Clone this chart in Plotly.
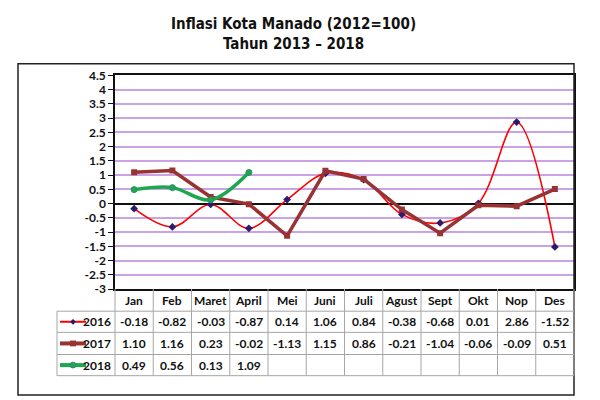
import plotly.graph_objects as go

months = ["Jan", "Feb", "Maret", "April", "Mei", "Juni", "Juli", "Agust", "Sept", "Okt", "Nop", "Des"]
v2016 = [-0.18, -0.82, -0.03, -0.87, 0.14, 1.06, 0.84, -0.38, -0.68, 0.01, 2.86, -1.52]
v2017 = [1.10, 1.16, 0.23, -0.02, -1.13, 1.15, 0.86, -0.21, -1.04, -0.06, -0.09, 0.51]
v2018 = [0.49, 0.56, 0.13, 1.09]
years = ["2016", "2017", "2018"]
ytick_vals = [-3, -2.5, -2, -1.5, -1, -0.5, 0, 0.5, 1, 1.5, 2, 2.5, 3, 3.5, 4, 4.5]

W, H = 600, 400
PL, PR, PT, PB = 115, 574, 70, 292
ROWS = [292, 315, 337, 360, 382]
LEG_L = 57

C16, C17, C18 = "#FF0000", "#993333", "#1EA84E"
MK16 = "#2E1A6B"
GRID = "#C9A3E6"
TFONT = "Lato"


def px(x):
    return x / W


def py(y):
    return 1 - y / H


fig = go.Figure()
fig.add_trace(go.Scatter(x=months, y=v2016, mode="lines+markers", name="2016",
                         line=dict(color=C16, width=1.6, shape="spline", smoothing=1.0),
                         marker=dict(symbol="diamond", size=6, color=MK16)))
fig.add_trace(go.Scatter(x=months, y=v2017, mode="lines+markers", name="2017",
                         line=dict(color=C17, width=3.5),
                         marker=dict(symbol="square", size=6, color=C17)))
fig.add_trace(go.Scatter(x=months[:len(v2018)], y=v2018, mode="lines+markers", name="2018",
                         line=dict(color=C18, width=3.5, shape="spline", smoothing=1.0),
                         marker=dict(symbol="circle", size=6, color=C18,
                                     line=dict(color="#2E8B6E", width=1))))

shapes = []
ann = []
GL = dict(color="#A6A6A6", width=1)

# outer frame
shapes.append(dict(type="rect", xref="paper", yref="paper", x0=px(18), x1=px(PR),
                   y0=py(402), y1=py(58), line=dict(color="#222222", width=1.5)))

# table lines
colw = (PR - PL) / len(months)
for k in range(len(months) + 1):
    x = PL + k * colw
    shapes.append(dict(type="line", xref="paper", yref="paper", x0=px(x), x1=px(x),
                       y0=py(PB), y1=py(ROWS[-1]), line=GL))
shapes.append(dict(type="line", xref="paper", yref="paper", x0=px(LEG_L), x1=px(LEG_L),
                   y0=py(ROWS[1]), y1=py(ROWS[-1]), line=GL))
for i, y in enumerate(ROWS[1:]):
    shapes.append(dict(type="line", xref="paper", yref="paper", x0=px(LEG_L), x1=px(PR),
                       y0=py(y), y1=py(y), line=GL))

tf = dict(family=TFONT, size=12, color="#111111", weight="bold")
for k, m in enumerate(months):
    cx = PL + (k + 0.5) * colw
    ann.append(dict(x=px(cx), y=py((ROWS[0] + ROWS[1]) / 2), xref="paper", yref="paper",
                    text=m, showarrow=False, font=tf, xanchor="center", yanchor="middle"))

series = [v2016, v2017, v2018]
for r, vals in enumerate(series):
    cy = (ROWS[r + 1] + ROWS[r + 2]) / 2
    for k, v in enumerate(vals):
        cx = PL + (k + 0.5) * colw
        ann.append(dict(x=px(cx), y=py(cy), xref="paper", yref="paper",
                        text=f"{v:.2f}", showarrow=False, font=tf,
                        xanchor="center", yanchor="middle"))
    ann.append(dict(x=px(113), y=py(cy), xref="paper", yref="paper", text=years[r],
                    showarrow=False, font=tf, xanchor="right", yanchor="middle"))

# legend keys in table
leg_cols = [C16, C17, C18]
leg_w = [2, 4, 4]
for r in range(3):
    cy = (ROWS[r + 1] + ROWS[r + 2]) / 2
    shapes.append(dict(type="line", xref="paper", yref="paper", x0=px(60), x1=px(86),
                       y0=py(cy), y1=py(cy), line=dict(color=leg_cols[r], width=leg_w[r])))
mx = 73
cy = (ROWS[1] + ROWS[2]) / 2
shapes.append(dict(type="path", xref="paper", yref="paper",
                   path=f"M {px(mx-3)} {py(cy)} L {px(mx)} {py(cy-3)} L {px(mx+3)} {py(cy)} L {px(mx)} {py(cy+3)} Z",
                   fillcolor=MK16, line=dict(color=MK16, width=0)))
cy = (ROWS[2] + ROWS[3]) / 2
shapes.append(dict(type="rect", xref="paper", yref="paper", x0=px(mx-3), x1=px(mx+3),
                   y0=py(cy+3), y1=py(cy-3), fillcolor=C17, line=dict(color=C17, width=0)))
cy = (ROWS[3] + ROWS[4]) / 2
shapes.append(dict(type="circle", xref="paper", yref="paper", x0=px(mx-3), x1=px(mx+3),
                   y0=py(cy+3), y1=py(cy-3), fillcolor=C18, line=dict(color="#2E8B6E", width=1)))

# title
titf = dict(family="Liberation Sans Narrow, Arial Narrow, DejaVu Sans Condensed", size=15,
            color="#111111", weight="bold")
ann.append(dict(x=px(293), y=py(17), xref="paper", yref="paper", text="Inflasi Kota Manado (2012=100)",
                showarrow=False, font=titf, xanchor="center", yanchor="middle"))
ann.append(dict(x=px(293), y=py(37), xref="paper", yref="paper", text="Tahun 2013 \u2013 2018",
                showarrow=False, font=titf, xanchor="center", yanchor="middle"))

fig.update_layout(
    width=W, height=H, autosize=False,
    margin=dict(l=0, r=0, t=0, b=0),
    paper_bgcolor="white", plot_bgcolor="white",
    showlegend=False,
    shapes=shapes, annotations=ann,
    xaxis=dict(domain=[px(PL), px(PR)], range=[-0.5, 11.5], showticklabels=False,
               showgrid=False, zeroline=False, showline=True, linecolor="#111111",
               linewidth=1.5, mirror=True, ticks="", fixedrange=True),
    yaxis=dict(domain=[py(PB), py(PT)], range=[-3, 4.5], tickvals=ytick_vals,
               ticktext=[f"{v:g}" for v in ytick_vals],
               showgrid=True, gridcolor=GRID, gridwidth=1.5,
               zeroline=True, zerolinecolor="#111111", zerolinewidth=1.5,
               showline=True, linecolor="#111111", linewidth=1.5, mirror=True,
               ticks="outside", ticklen=5, tickcolor="#111111",
               tickfont=dict(family=TFONT, size=12, color="#111111", weight="bold"),
               fixedrange=True),
)

fig.write_html("out.html", config={"displayModeBar": False},
               post_script="document.body.style.margin='0';")
